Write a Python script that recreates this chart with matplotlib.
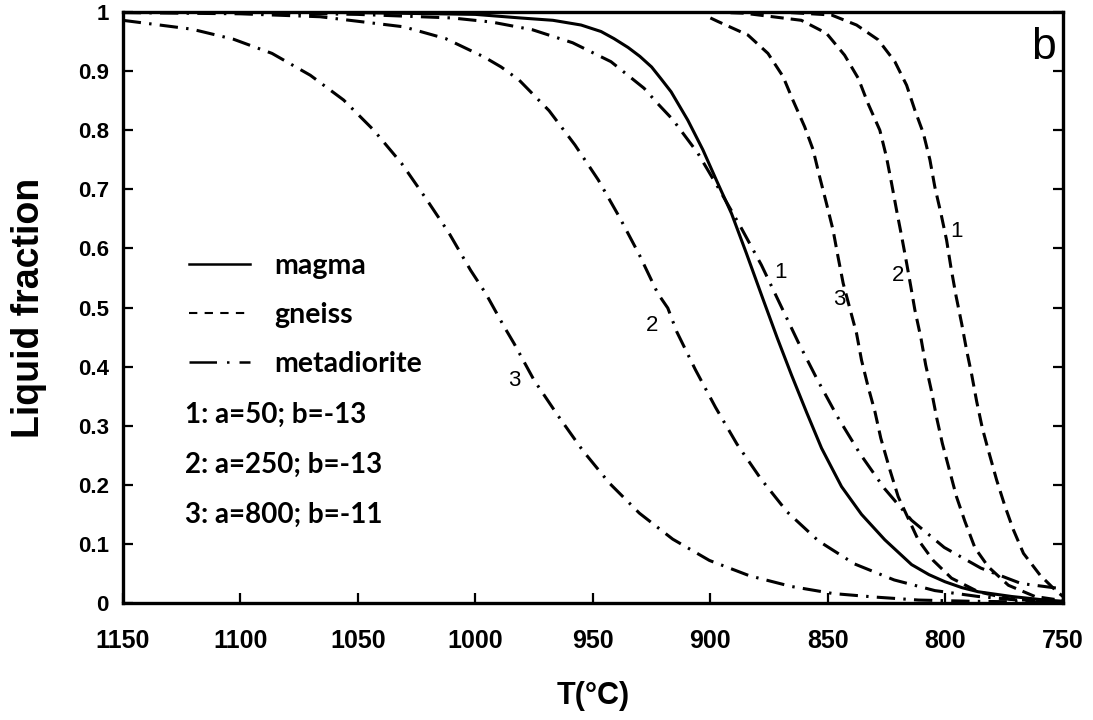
import matplotlib
matplotlib.use("Agg")
import matplotlib.pyplot as plt
from matplotlib.lines import Line2D

# values: temperature (°C) and liquid fraction
magma_T = [1150, 1100, 1050, 1000, 981, 967, 955, 946.5, 941, 935, 930, 925, 921, 916.7, 909.6, 903.2,
           897.5, 891, 884.7, 877.5, 871.5, 865.5, 859, 852.7, 848, 844.2, 835.7, 825.8, 814.4,
           807, 800.2, 793, 786, 771.8, 757.6, 750]
magma_y = [1.0, 1.0, 0.999, 0.996, 0.990, 0.986, 0.978, 0.967, 0.955, 0.940, 0.925, 0.907, 0.887,
           0.865, 0.817, 0.767, 0.716, 0.659, 0.592, 0.513, 0.448, 0.386, 0.322, 0.262, 0.226,
           0.197, 0.150, 0.107, 0.065, 0.048, 0.036, 0.026, 0.019, 0.011, 0.005, 0.003]

gneiss1_T = [900, 870, 848.5, 837.8, 828.6, 821.5, 816.5, 813, 809.4, 806.6, 804.5, 801.9, 799.5, 797.7,
             795.5, 793.1, 791, 788.8, 786.7, 784.3, 782, 778.2, 774.6, 771.1, 766.8, 759.7, 753.3, 750]
gneiss1_y = [1.0, 1.0, 0.995, 0.978, 0.953, 0.916, 0.876, 0.834, 0.795, 0.750, 0.704, 0.659, 0.614, 0.569,
             0.520, 0.473, 0.428, 0.386, 0.341, 0.296, 0.262, 0.208, 0.163, 0.124, 0.084, 0.047, 0.022, 0.011]

gneiss2_T = [900, 885.6, 861.3, 850.6, 842.9, 837.1, 832.9, 827.9, 825.1, 822.9, 820.8, 818.6, 816.5, 814.7,
             813, 810.4, 808.4, 805.9, 803.7, 801.3, 798.1, 795.3, 791.7, 787.4, 781.7, 773.2, 761.9, 750]
gneiss2_y = [1.0, 0.998, 0.986, 0.964, 0.927, 0.888, 0.845, 0.800, 0.755, 0.710, 0.665, 0.620, 0.575, 0.535,
             0.496, 0.448, 0.403, 0.358, 0.313, 0.270, 0.222, 0.180, 0.138, 0.093, 0.061, 0.030, 0.011, 0.004]

gneiss3_T = [900, 896.8, 884, 875.5, 869.1, 864.9, 859.9, 856.3, 853.5, 850.6, 847.8, 845.7, 843.5, 840.7,
             837.8, 835.7, 832.9, 830, 827.5, 823.6, 820.1, 815.8, 811.6, 805.2, 797.4, 786, 771.8, 754.8, 750]
gneiss3_y = [0.99, 0.984, 0.961, 0.930, 0.891, 0.851, 0.806, 0.767, 0.721, 0.676, 0.631, 0.586, 0.541, 0.499,
             0.456, 0.411, 0.366, 0.324, 0.279, 0.225, 0.180, 0.143, 0.107, 0.072, 0.042, 0.019, 0.006, 0.003, 0.002]

meta1_T = [1150, 1100, 1050, 1010, 993, 975.7, 958.6, 942.3, 928.2, 922.4, 916, 905.3, 896.1, 887.2,
           878.3, 870.5, 862.7, 854.5, 845.9, 836.4, 826, 814.4, 800.5, 784.9, 767.8, 752.2, 750]
meta1_y = [1.0, 0.999, 0.996, 0.990, 0.983, 0.970, 0.948, 0.916, 0.871, 0.845, 0.818, 0.761, 0.699, 0.637,
           0.572, 0.507, 0.442, 0.378, 0.315, 0.253, 0.194, 0.140, 0.094, 0.059, 0.033, 0.025, 0.024]

meta2_T = [1150, 1100, 1066, 1030.5, 1012.6, 996.3, 989, 981.4, 968.6, 957.6, 947.7, 938.7, 930.2, 922.4,
           918.1, 914.3, 906.4, 897.8, 888.7, 878.5, 867.3, 854, 838.6, 821.8, 804.5, 786, 769, 750]
meta2_y = [0.999, 0.997, 0.992, 0.975, 0.955, 0.924, 0.907, 0.885, 0.833, 0.775, 0.716, 0.653, 0.589, 0.524,
           0.499, 0.459, 0.395, 0.331, 0.269, 0.210, 0.154, 0.105, 0.066, 0.039, 0.021, 0.011, 0.005, 0.003]

meta3_T = [1150, 1120.6, 1102.9, 1086.5, 1070.2, 1056, 1043.2, 1031.4, 1021.1, 1011.2, 1002, 995.6, 987.8,
           983.5, 975, 965, 954.3, 943, 930.2, 916, 900.4, 883.3, 865.6, 847.8, 829.8, 811.5, 790, 770, 750]
meta3_y = [0.986, 0.971, 0.954, 0.930, 0.893, 0.851, 0.800, 0.744, 0.685, 0.626, 0.563, 0.524, 0.468,
           0.439, 0.377, 0.318, 0.258, 0.203, 0.152, 0.108, 0.072, 0.046, 0.028, 0.016, 0.010, 0.005, 0.003, 0.002, 0.001]

x_ticks = [1150, 1100, 1050, 1000, 950, 900, 850, 800, 750]
y_ticks = [0, 0.1, 0.2, 0.3, 0.4, 0.5, 0.6, 0.7, 0.8, 0.9, 1]
y_ticklabels = ["0", "0.1", "0.2", "0.3", "0.4", "0.5", "0.6", "0.7", "0.8", "0.9", "1"]

legend_names = ["magma", "gneiss", "metadiorite"]
param_lines = ["1: a=50; b=-13", "2: a=250; b=-13", "3: a=800; b=-11"]

# curve number labels (text, T, y)
curve_labels = [("1", 870.2, 0.560), ("2", 924.8, 0.470), ("3", 983.6, 0.377),
                ("1", 795.2, 0.628), ("2", 820.0, 0.555), ("3", 845.1, 0.513)]

DASH = (4.3, 2.3)
DASHDOT = (6.0, 2.7, 0.8, 2.7)
LW = 2.2

fig = plt.figure(figsize=(10.93, 7.2), dpi=100)
ax = fig.add_axes([0.1123, 0.1625, 0.8602, 0.8208])

ax.plot(magma_T, magma_y, color="black", lw=LW, solid_capstyle="butt")
for T, y in [(gneiss1_T, gneiss1_y), (gneiss2_T, gneiss2_y), (gneiss3_T, gneiss3_y)]:
    ax.plot(T, y, color="black", lw=LW, dashes=DASH, dash_capstyle="butt")
for T, y in [(meta1_T, meta1_y), (meta2_T, meta2_y), (meta3_T, meta3_y)]:
    ax.plot(T, y, color="black", lw=LW, dashes=DASHDOT, dash_capstyle="butt")

for txt, T, y in curve_labels:
    ax.text(T, y, txt, fontsize=16, family="Liberation Sans", ha="center", va="center")

ax.text(0.979, 0.94, "b", transform=ax.transAxes, fontsize=32, family="Liberation Sans",
        ha="center", va="center")

ax.set_xlim(1150, 750)
ax.set_ylim(0, 1)
ax.set_xticks(x_ticks)
ax.set_xticklabels([str(t) for t in x_ticks])
ax.set_yticks(y_ticks)
ax.set_yticklabels(y_ticklabels)
for lab in ax.get_xticklabels():
    lab.set_fontfamily("Liberation Sans")
    lab.set_fontweight("bold")
    lab.set_fontsize(18)
for lab in ax.get_yticklabels():
    lab.set_fontfamily("Liberation Sans")
    lab.set_fontweight("bold")
    lab.set_fontsize(16)

ax.tick_params(axis="both", direction="in", length=7, width=1.6)
ax.tick_params(axis="y", right=True, pad=10)
ax.tick_params(axis="x", pad=19)
for sp in ax.spines.values():
    sp.set_linewidth(2.4)

ax.set_xlabel("T(°C)", fontsize=22, fontweight="bold", family="Liberation Sans", labelpad=20)
ax.set_ylabel("Liquid fraction", fontsize=27, fontweight="bold", family="Liberation Sans", labelpad=22)

handles = [
    Line2D([], [], color="black", lw=1.8),
    Line2D([], [], color="black", lw=1.5, dashes=(4, 3.5)),
    Line2D([], [], color="black", lw=1.8, dashes=(11, 4, 1, 4)),
]
leg = ax.legend(handles, legend_names, loc="upper left", bbox_to_anchor=(0.058, 0.611),
                frameon=False, handlelength=2.16, handletextpad=0.83, labelspacing=0.8,
                borderaxespad=0, prop={"family": "Lato", "weight": "bold", "size": 20.5})

for i, s in enumerate(param_lines):
    ax.text(0.066, 0.318 - i * 0.0845, s, transform=ax.transAxes, fontsize=20,
            family="Lato", fontweight="bold", ha="left", va="center")

fig.savefig("out.png", dpi=100)
